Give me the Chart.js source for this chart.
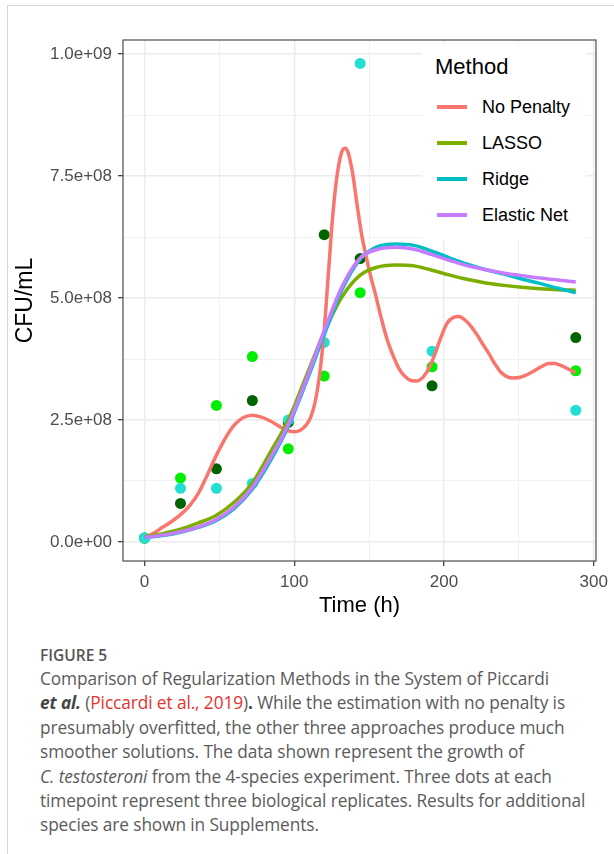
<!DOCTYPE html>
<html>
<head>
<meta charset="utf-8">
<script src="https://cdn.jsdelivr.net/npm/chart.js@4.4.1/dist/chart.umd.min.js"></script>
<style>
  html, body { margin: 0; padding: 0; background: #fff; }
  body { width: 614px; height: 854px; position: relative; overflow: hidden; }
  .frame { position: absolute; left: 7px; top: 5px; width: 640px; height: 900px;
           border-top: 1px solid #d6d6d6; border-left: 1px solid #d6d6d6; }
  #wrap { position: absolute; left: 0; top: 0; width: 614px; height: 640px; }
  .legend { position: absolute; left: 422px; top: 44px; width: 164px; height: 196px;
            background: #fff; font-family: "Liberation Sans", Arial, sans-serif; color: #000; }
  .legend .title { position: absolute; left: 13px; top: 10px; font-size: 22px; line-height: 26px; }
  .legend .item { position: absolute; left: 15px; height: 24px; }
  .legend .key { position: absolute; left: 0; top: 10px; width: 30px; height: 4px; }
  .legend .lab { position: absolute; left: 45px; top: 0; font-size: 18px; line-height: 24px; white-space: nowrap; }
  .cap { position: absolute; left: 40px; top: 643px; font-family: "Open Sans", "Noto Sans", sans-serif;
         color: #5b5b5b; white-space: nowrap; }
  .cap .fig { font-size: 15.5px; font-weight: 600; line-height: 24px; color: #555; }
  .cap .txt { font-size: 17.3px; line-height: 24.4px; letter-spacing: -0.1px; }
  .cap .ref { color: #e5322d; }
  .cap b { color: #444; }
</style>
</head>
<body>
<div class="frame"></div>
<div id="wrap"><canvas id="chart"></canvas></div>
<div class="legend" id="legend"><div class="title">Method</div></div>
<div class="cap">
  <div class="fig">FIGURE 5</div>
  <div class="txt">Comparison of Regularization Methods in the System of Piccardi<br><b><i>et al.</i></b> (<span class="ref">Piccardi et al., 2019</span>)<b>.</b> While the estimation with no penalty is<br>presumably overfitted, the other three approaches produce much<br>smoother solutions. The data shown represent the growth of<br><i>C. testosteroni</i> from the 4-species experiment. Three dots at each<br>timepoint represent three biological replicates. Results for additional<br>species are shown in Supplements.</div>
</div>
<script>
// replicate measurements (CFU/mL)
const sampleTimes = [0, 24, 48, 72, 96, 120, 144, 192, 288];
const replicate1 = [8e6, 0.79e8, 1.50e8, 2.90e8, 2.45e8, 6.30e8, 5.81e8, 3.20e8, 4.19e8];
const replicate2 = [8e6, 1.31e8, 2.80e8, 3.80e8, 1.91e8, 3.40e8, 5.11e8, 3.59e8, 3.51e8];
const replicate3 = [8e6, 1.10e8, 1.10e8, 1.20e8, 2.50e8, 4.09e8, 9.81e8, 3.91e8, 2.70e8];

// fitted curves
const noPenaltyTimes = [0, 6, 12, 18, 24, 30, 36, 42, 48, 54, 60, 66, 72, 78, 84, 90, 96, 100, 104, 108,
  111, 114, 117, 120, 123, 126, 129, 132, 134, 136, 139, 142, 145, 148, 151, 154, 158, 162, 166, 170, 174, 178,
  182, 186, 190, 194, 198, 202, 206, 210, 214, 218, 222, 226, 230, 234, 238, 242, 246, 250, 254, 258,
  262, 266, 270, 274, 278, 282, 288];
const noPenalty = [1.0e7, 1.8e7, 3.0e7, 4.2e7, 5.6e7, 7.4e7, 1.0e8, 1.38e8, 1.78e8, 2.13e8, 2.40e8, 2.55e8,
  2.60e8, 2.56e8, 2.48e8, 2.37e8, 2.28e8, 2.26e8, 2.29e8, 2.40e8,
  2.56e8, 2.88e8, 3.45e8, 4.35e8, 5.60e8, 6.80e8, 7.60e8, 8.02e8, 8.07e8, 7.98e8, 7.55e8, 6.90e8, 6.30e8, 5.85e8, 5.45e8, 5.10e8,
  4.6e8, 4.15e8, 3.82e8, 3.55e8, 3.39e8,
  3.31e8, 3.30e8, 3.38e8, 3.56e8, 3.86e8, 4.20e8, 4.48e8, 4.60e8, 4.62e8, 4.55e8, 4.42e8, 4.25e8, 4.05e8,
  3.86e8, 3.65e8, 3.48e8, 3.39e8, 3.36e8, 3.37e8, 3.41e8, 3.47e8, 3.54e8, 3.61e8, 3.66e8, 3.66e8, 3.62e8,
  3.56e8, 3.47e8];

const fitTimes = [0, 12, 24, 36, 48, 60, 72, 84, 96, 108, 120, 132, 144, 156, 168, 180, 192, 204, 216, 228,
  240, 252, 264, 276, 288];
const lasso = [1.0e7, 1.7e7, 2.6e7, 3.9e7, 5.5e7, 8.2e7, 1.21e8, 1.84e8, 2.50e8, 3.40e8, 4.30e8, 5.03e8,
  5.47e8, 5.64e8, 5.68e8, 5.66e8, 5.57e8, 5.47e8, 5.38e8, 5.31e8, 5.26e8, 5.22e8, 5.19e8, 5.17e8, 5.16e8];
const ridge = [0.9e7, 1.3e7, 2.0e7, 3.0e7, 4.4e7, 6.9e7, 1.08e8, 1.66e8, 2.37e8, 3.28e8, 4.25e8, 5.18e8,
  5.80e8, 6.06e8, 6.11e8, 6.08e8, 5.96e8, 5.82e8, 5.69e8, 5.58e8, 5.49e8, 5.39e8, 5.30e8, 5.20e8, 5.11e8];
const elasticNet = [0.9e7, 1.4e7, 2.1e7, 3.1e7, 4.6e7, 7.2e7, 1.12e8, 1.72e8, 2.41e8, 3.33e8, 4.33e8, 5.24e8,
  5.82e8, 6.00e8, 6.04e8, 6.00e8, 5.89e8, 5.77e8, 5.66e8, 5.58e8, 5.51e8, 5.46e8, 5.41e8, 5.37e8, 5.33e8];

const methodNames = ['No Penalty', 'LASSO', 'Ridge', 'Elastic Net'];
const methodColors = ['#F8766D', '#7CAE00', '#00BFC4', '#C77CFF'];
const replicateColors = ['#006400', '#00EE00', '#1FE0D2'];

// axis ticks
const yMajor = [0, 2.5e8, 5e8, 7.5e8, 1e9];
const yTickLabels = ['0.0e+00', '2.5e+08', '5.0e+08', '7.5e+08', '1.0e+09'];
const yMinor = [1.25e8, 3.75e8, 6.25e8, 8.75e8];
const xMajor = [0, 100, 200, 300];
const xMinor = [50, 150, 250];

function pairs(xs, ys) {
  return xs.map((x, i) => ({ x: x, y: ys[i] }));
}

function lineSet(name, times, values) {
  const i = methodNames.indexOf(name);
  return {
    type: 'line',
    label: name,
    data: pairs(times, values),
    borderColor: methodColors[i],
    borderWidth: 3.5,
    pointRadius: 0,
    fill: false,
    cubicInterpolationMode: 'monotone'
  };
}

function pointSet(values, color) {
  return {
    type: 'scatter',
    data: pairs(sampleTimes, values),
    backgroundColor: color,
    borderWidth: 0,
    pointRadius: 5.5,
    showLine: false
  };
}

// build legend
const legend = document.getElementById('legend');
methodNames.forEach((name, i) => {
  const item = document.createElement('div');
  item.className = 'item';
  item.style.top = (51 + i * 36) + 'px';
  item.innerHTML = '<div class="key" style="background:' + methodColors[i] + '"></div><div class="lab">' + name + '</div>';
  legend.appendChild(item);
});

function gridFor(major) {
  return {
    color: '#ebebeb',
    lineWidth: c => (c.tick && major.includes(c.tick.value)) ? 1.4 : 0.7,
    tickColor: c => (c.tick && major.includes(c.tick.value)) ? '#333333' : 'rgba(0,0,0,0)',
    tickLength: 5,
    tickWidth: 1.2,
    drawTicks: true
  };
}

const panelBorder = {
  id: 'panelBorder',
  afterDatasetsDraw(chart) {
    const { ctx, chartArea: a } = chart;
    ctx.save();
    ctx.strokeStyle = '#4d4d4d';
    ctx.lineWidth = 1.2;
    ctx.strokeRect(a.left, a.top, a.right - a.left, a.bottom - a.top);
    ctx.restore();
  }
};

Chart.defaults.font.family = '"Liberation Sans", Arial, sans-serif';

new Chart(document.getElementById('chart'), {
  type: 'line',
  data: {
    datasets: [
      lineSet('Elastic Net', fitTimes, elasticNet),
      lineSet('Ridge', fitTimes, ridge),
      lineSet('LASSO', fitTimes, lasso),
      lineSet('No Penalty', noPenaltyTimes, noPenalty),
      pointSet(replicate3, replicateColors[2]),
      pointSet(replicate2, replicateColors[1]),
      pointSet(replicate1, replicateColors[0])
    ]
  },
  options: {
    responsive: true,
    maintainAspectRatio: false,
    animation: false,
    devicePixelRatio: 1,
    layout: { padding: { top: 40, right: 17, left: 0, bottom: 0 } },
    plugins: { legend: { display: false }, tooltip: { enabled: false } },
    scales: {
      x: {
        type: 'linear',
        min: -14.4,
        max: 301.5,
        afterBuildTicks: s => { s.ticks = xMajor.concat(xMinor).sort((a, b) => a - b).map(v => ({ value: v })); },
        afterFit: s => { s.height = 79; },
        border: { display: false },
        grid: gridFor(xMajor),
        ticks: {
          callback: v => xMajor.includes(v) ? String(v) : '',
          color: '#4d4d4d',
          font: { size: 17 },
          padding: 6,
          maxRotation: 0,
          autoSkip: false
        },
        title: { display: true, text: 'Time (h)', color: '#000', font: { size: 22, lineHeight: 1 }, padding: { top: 0, bottom: 23 } }
      },
      y: {
        type: 'linear',
        min: -3.9e7,
        max: 1.029e9,
        afterBuildTicks: s => { s.ticks = yMajor.concat(yMinor).sort((a, b) => a - b).map(v => ({ value: v })); },
        afterFit: s => { s.width = 123; },
        border: { display: false },
        grid: gridFor(yMajor),
        ticks: {
          callback: v => { const i = yMajor.indexOf(v); return i >= 0 ? yTickLabels[i] : ''; },
          color: '#4d4d4d',
          font: { size: 17 },
          padding: 6,
          autoSkip: false
        },
        title: { display: true, text: 'CFU/mL', color: '#000', font: { size: 23, lineHeight: 1 }, padding: { top: 14, bottom: 0 } }
      }
    }
  },
  plugins: [panelBorder]
});
</script>
</body>
</html>
